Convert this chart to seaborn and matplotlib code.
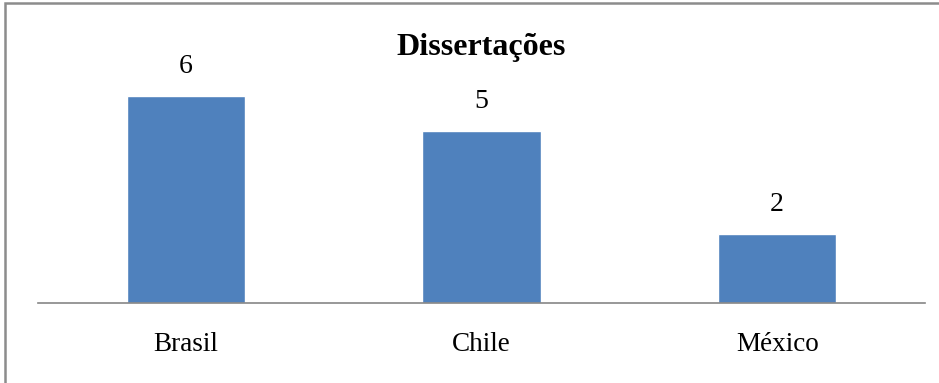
import matplotlib
matplotlib.use("Agg")
import matplotlib.pyplot as plt
import seaborn as sns
import pandas as pd
from matplotlib.patches import Rectangle

# Data
countries = ["Brasil", "Chile", "México"]
counts = [6, 5, 2]
chart_title = "Dissertações"

sns.set_theme(style="white")
plt.rcParams["font.family"] = ["Liberation Serif", "DejaVu Serif"]

W, H = 939, 383
fig = plt.figure(figsize=(W / 100, H / 100), dpi=100)
fig.patch.set_facecolor("white")

# Axes placed in pixel units
left, right, base, top = 38, 925, 303, 61.5
ax = fig.add_axes([left / W, 1 - base / H, (right - left) / W, (base - top) / H])

df = pd.DataFrame({"country": countries, "count": counts})
sns.barplot(data=df, x="country", y="count", color="#4F81BD", width=0.4,
            saturation=1, ax=ax)

ax.set_ylim(0, 7)
ax.set_xlim(-0.5, len(countries) - 0.5)
ax.set_xlabel("")
ax.set_ylabel("")
ax.set_yticks([])
for side in ["top", "right", "left"]:
    ax.spines[side].set_visible(False)
ax.spines["bottom"].set_color("#868686")
ax.spines["bottom"].set_linewidth(1.2)
ax.tick_params(axis="x", length=0, pad=21, labelsize=19.5, colors="black")

# Value labels above each bar
for container in ax.containers:
    ax.bar_label(container, labels=[str(v) for v in counts], padding=12,
                 fontsize=20, color="black")

# Chart title
fig.text((left + right) / 2 / W, 1 - 55 / H, chart_title, ha="center",
         va="baseline", fontsize=23, fontweight="bold", color="black")

# Outer chart frame (left and top edges visible)
fig.patches.append(Rectangle((5 / W, -0.1), 1.2, 1 - 3 / H + 0.1,
                             transform=fig.transFigure, fill=False,
                             edgecolor="#8C8C8C", linewidth=1.8))

fig.savefig("out.png", dpi=100, facecolor="white")
